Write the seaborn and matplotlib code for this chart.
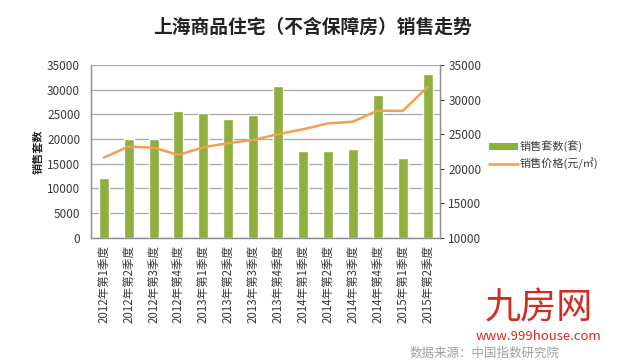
import numpy as np
import pandas as pd
import matplotlib
matplotlib.use('Agg')
import matplotlib.pyplot as plt
import seaborn as sns
from matplotlib.patches import Patch
from matplotlib.lines import Line2D

sns.set_style("white")
plt.rcParams['font.family'] = ['Noto Sans CJK SC', 'DejaVu Sans']

# ── Data ─────────────────────────────────────────────────────
quarters = ['2012年第1季度', '2012年第2季度', '2012年第3季度', '2012年第4季度',
            '2013年第1季度', '2013年第2季度', '2013年第3季度', '2013年第4季度',
            '2014年第1季度', '2014年第2季度', '2014年第3季度', '2014年第4季度',
            '2015年第1季度', '2015年第2季度']
units = [12200, 20000, 20000, 25600, 25300, 24100, 24900, 30700,
         17600, 17600, 17900, 29000, 16100, 33100]
price = [21600, 23200, 23050, 22000, 23100, 23700, 24150, 25000,
         25700, 26550, 26800, 28400, 28350, 31800]

df = pd.DataFrame({'quarter': quarters, 'units': units, 'price': price})

green = '#8db03f'
orange = '#f0a050'
gray = '#3a3a3a'

# ── Chart ────────────────────────────────────────────────────
fig = plt.figure(figsize=(6.25, 3.61), dpi=100)
ax = fig.add_axes([0.146, 0.341, 0.558, 0.479])

sns.barplot(data=df, x='quarter', y='units', color=green, width=0.4,
            saturation=1, ax=ax, zorder=2)
ax.set_ylim(0, 35000)
ax.set_yticks(np.arange(0, 35001, 5000))
ax.yaxis.grid(True, color='#a8a8a8', linewidth=0.9, zorder=0)
ax.set_axisbelow(True)
ax.set_xlabel('')
ax.set_ylabel('销售套数', fontsize=8, fontweight='bold', labelpad=2)
ax.tick_params(axis='y', labelsize=8.5, colors=gray, length=0, pad=8)
ax.tick_params(axis='x', labelsize=8.3, colors=gray, rotation=90, length=3, pad=2)

ax2 = ax.twinx()
ax2.plot(np.arange(len(quarters)), df['price'], color=orange, linewidth=1.8, zorder=3)
ax2.set_ylim(10000, 35000)
ax2.set_yticks(np.arange(10000, 35001, 5000))
ax2.tick_params(axis='y', labelsize=8.5, colors=gray, length=3, direction='out', pad=3)
ax2.set_xlim(-0.5, len(quarters) - 0.5)

for a in (ax, ax2):
    for side in ('left', 'right', 'bottom'):
        a.spines[side].set_color('#909090')
        a.spines[side].set_linewidth(0.9)
    a.spines['top'].set_visible(False)

handles = [Patch(facecolor=green, edgecolor='none'),
           Line2D([0], [0], color=orange, linewidth=1.8)]
fig.legend(handles, ['销售套数(套)', '销售价格(元/㎡)'],
           loc='center left', bbox_to_anchor=(0.775, 0.57), frameon=False,
           fontsize=8, handlelength=2.6, handleheight=0.6, labelcolor=gray,
           borderaxespad=0, handletextpad=0.2, labelspacing=0.5)

fig.text(0.5, 0.925, '上海商品住宅（不含保障房）销售走势', ha='center', va='center',
         fontsize=13.5, fontweight='bold', color='#222222')

# watermark / source
fig.text(0.656, 0.022, '数据来源：中国指数研究院', ha='left', va='center',
         fontsize=9, color='#a0a0a0')
fig.text(0.862, 0.145, '九房网', ha='center', va='center',
         fontsize=26, color='#d42a20')
fig.text(0.862, 0.068, 'www.999house.com', ha='center', va='center',
         fontsize=9.5, color='#d42a20')

plt.savefig('out.png', dpi=100)
plt.close()
